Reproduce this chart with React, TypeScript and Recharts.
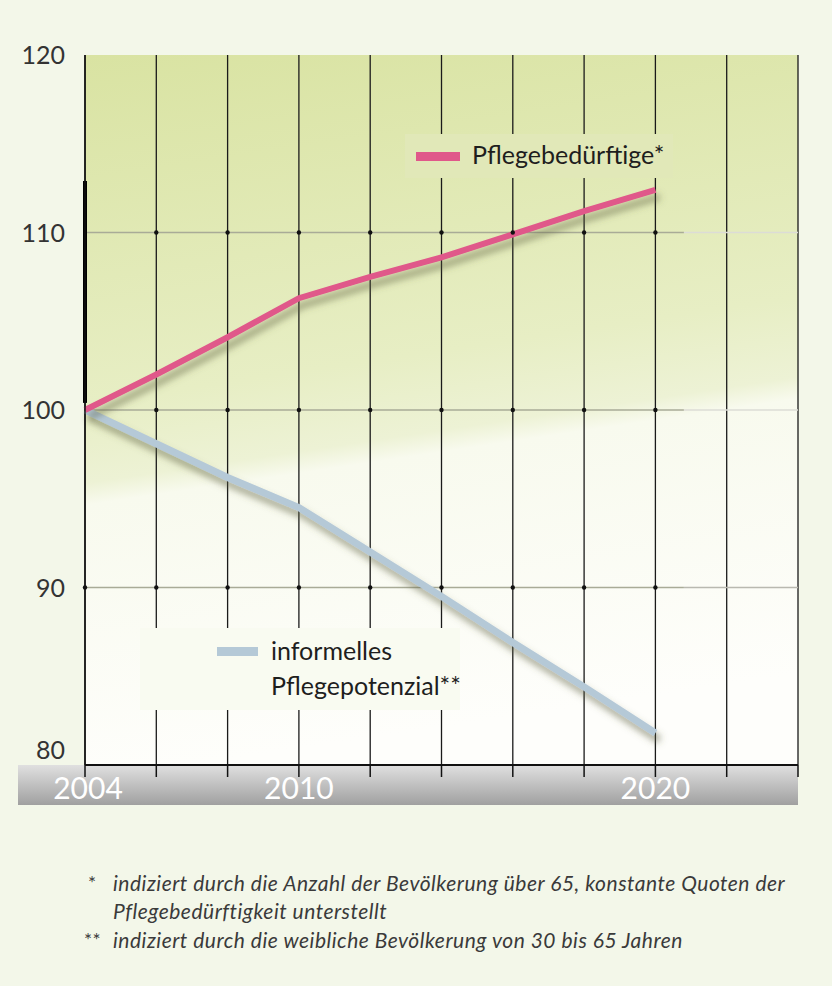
import React from 'react';
import { ComposedChart, Line, XAxis, YAxis, CartesianGrid, ReferenceLine, ReferenceDot, Legend } from 'recharts';

const years = [2004, 2006, 2008, 2010, 2012, 2014, 2016, 2018, 2020];
const pflegebeduerftige = [100, 102.0, 104.1, 106.3, 107.5, 108.6, 109.9, 111.2, 112.4];
const pflegepotenzial = [100, 98.1, 96.2, 94.5, 92.0, 89.5, 86.9, 84.4, 81.8];

const xTicks = [2004, 2006, 2008, 2010, 2012, 2014, 2016, 2018, 2020, 2022, 2024];
const labeledYears = [2004, 2010, 2020];
const yTicks = [80, 90, 100, 110, 120];
const gridLevels = [90, 100, 110];
const dotYears = [2006, 2008, 2010, 2012, 2014, 2016, 2018, 2020];

const chartData = years.map((year, i) => ({
  year,
  pflege: pflegebeduerftige[i],
  potenzial: pflegepotenzial[i],
}));

const PINK = '#e0588a';
const BLUE = '#b5c9d7';

const XTick = (props: any) => {
  const { x, y, payload } = props;
  return (
    <g>
      <line x1={x} x2={x} y1={y} y2={y + 12} stroke="#111" strokeWidth={1.5} />
      {labeledYears.includes(payload.value) && (
        <text x={x + (payload.value === 2004 ? 3 : 0)} y={y + 34} textAnchor="middle" fill="#ffffff" fontSize={30} fontFamily="Lato, sans-serif">
          {payload.value}
        </text>
      )}
    </g>
  );
};

const YTick = (props: any) => {
  const { x, y, payload } = props;
  return (
    <text x={x - 20} y={y + (payload.value === 80 ? -15 : 0)} dy={9} textAnchor="end" fill="#333" fontSize={25} fontFamily="Lato, sans-serif">
      {payload.value}
    </text>
  );
};

// legend is drawn in a zero-size box so the chart does not reserve room for it
const renderLegend = (props: any) => {
  const payload = props.payload || [];
  const pink = payload.find((p: any) => p.dataKey === 'pflege');
  const blue = payload.find((p: any) => p.dataKey === 'potenzial');
  const text: React.CSSProperties = { position: 'absolute', fontSize: 25, color: '#1e1e1e', fontFamily: 'Lato, sans-serif', whiteSpace: 'nowrap', lineHeight: '35px' };
  return (
    <div style={{ position: 'relative', width: 0, height: 0 }}>
      <div style={{ position: 'absolute', left: 405, top: 134, width: 268, height: 44, background: '#e1e8b8' }} />
      <div style={{ position: 'absolute', left: 416, top: 152, width: 44, height: 9, background: pink ? pink.color : PINK }} />
      <div style={{ ...text, left: 472, top: 137 }}>{pink ? pink.value : ''}</div>

      <div style={{ position: 'absolute', left: 140, top: 628, width: 320, height: 82, background: '#f9fbf1' }} />
      <div style={{ position: 'absolute', left: 217, top: 647, width: 41, height: 9, background: blue ? blue.color : BLUE }} />
      <div style={{ ...text, left: 271, top: 633 }}>informelles</div>
      <div style={{ ...text, left: 271, top: 668 }}>Pflegepotenzial**</div>
    </div>
  );
};

export default function App() {
  return (
    <div style={{ position: 'absolute', left: 0, top: 0, width: 832, height: 986, background: '#f3f7e9', overflow: 'hidden', fontFamily: 'Lato, sans-serif' }}>
      <style>{`.recharts-line-curve { filter: url(#lineShadow); }`}</style>
      <div style={{ position: 'absolute', left: 18, top: 765, width: 780, height: 40, background: 'linear-gradient(#e0e0e0, #a0a0a0)' }} />
      <div style={{ position: 'absolute', left: 0, top: 0 }}>
        <ComposedChart width={832} height={830} data={chartData} margin={{ top: 55, right: 34, left: 20, bottom: 20 }}>
          <defs>
            <linearGradient id="plotBg" x1="0" y1="0" x2="0.15" y2="1">
              <stop offset="0%" stopColor="#d9e3a2" />
              <stop offset="48%" stopColor="#e7eec4" />
              <stop offset="59%" stopColor="#edf2d5" />
              <stop offset="62%" stopColor="#f8faee" />
              <stop offset="100%" stopColor="#fefefb" />
            </linearGradient>
            <filter id="lineShadow" x="-10%" y="-20%" width="130%" height="150%">
              <feDropShadow dx="4" dy="7" stdDeviation="3.5" floodColor="#5c6140" floodOpacity="0.55" />
            </filter>
          </defs>
          <CartesianGrid horizontal={false} stroke="#1a1a1a" strokeWidth={1.3} fill="url(#plotBg)" fillOpacity={1} />
          <XAxis
            dataKey="year"
            type="number"
            domain={[2004, 2024]}
            ticks={xTicks}
            interval={0}
            tickSize={0}
            tickMargin={0}
            tick={<XTick />}
            axisLine={{ stroke: '#111', strokeWidth: 2 }}
            height={45}
          />
          <YAxis
            type="number"
            domain={[80, 120]}
            ticks={yTicks}
            interval={0}
            tickSize={0}
            tickMargin={0}
            tick={<YTick />}
            axisLine={{ stroke: '#111', strokeWidth: 1.5 }}
            width={65}
          />
          {gridLevels.map((lvl) => (
            <ReferenceLine key={`a${lvl}`} segment={[{ x: 2004, y: lvl }, { x: 2020.8, y: lvl }]} stroke="#a9ab97" strokeWidth={1.5} />
          ))}
          {gridLevels.map((lvl) => (
            <ReferenceLine key={`b${lvl}`} segment={[{ x: 2020.8, y: lvl }, { x: 2024, y: lvl }]} stroke={lvl === 90 ? '#b9b9b0' : '#dcdcd6'} strokeWidth={1.5} />
          ))}
          {gridLevels.flatMap((lvl) =>
            dotYears.map((yr) => (
              <ReferenceDot key={`${lvl}-${yr}`} x={yr} y={lvl} r={2.2} fill="#111" stroke="none" />
            ))
          )}
          <ReferenceDot x={2004} y={90} r={2.2} fill="#111" stroke="none" />
          <ReferenceLine
            segment={[{ x: 2004, y: 100.4 }, { x: 2004, y: 112.9 }]}
            stroke="#000"
            strokeWidth={4}
          />
          <Line
            type="linear"
            dataKey="potenzial"
            name="informelles Pflegepotenzial**"
            stroke={BLUE}
            strokeWidth={7}
            dot={false}
            activeDot={false}
            isAnimationActive={false}
          />
          <Line
            type="linear"
            dataKey="pflege"
            name="Pflegebedürftige*"
            stroke={PINK}
            strokeWidth={6}
            dot={false}
            activeDot={false}
            isAnimationActive={false}
          />
          <Legend
            content={renderLegend}
            wrapperStyle={{ position: 'absolute', left: 0, top: 0, width: 0, height: 0 }}
          />
        </ComposedChart>
      </div>
      <div style={{ position: 'absolute', left: 0, top: 869, width: 832, color: '#3a3a3a', fontSize: 21, fontStyle: 'italic', lineHeight: '28px', letterSpacing: 0.5 }}>
        <div style={{ position: 'absolute', left: 88, top: 0, fontStyle: 'normal', fontSize: 19 }}>*</div>
        <div style={{ position: 'absolute', left: 113, top: 0, width: 719, whiteSpace: 'nowrap' }}>
          indiziert durch die Anzahl der Bevölkerung über 65, konstante Quoten der<br />
          Pflegebedürftigkeit unterstellt
        </div>
        <div style={{ position: 'absolute', left: 84, top: 57, fontStyle: 'normal', fontSize: 19 }}>**</div>
        <div style={{ position: 'absolute', left: 113, top: 57, whiteSpace: 'nowrap' }}>
          indiziert durch die weibliche Bevölkerung von 30 bis 65 Jahren
        </div>
      </div>
    </div>
  );
}
